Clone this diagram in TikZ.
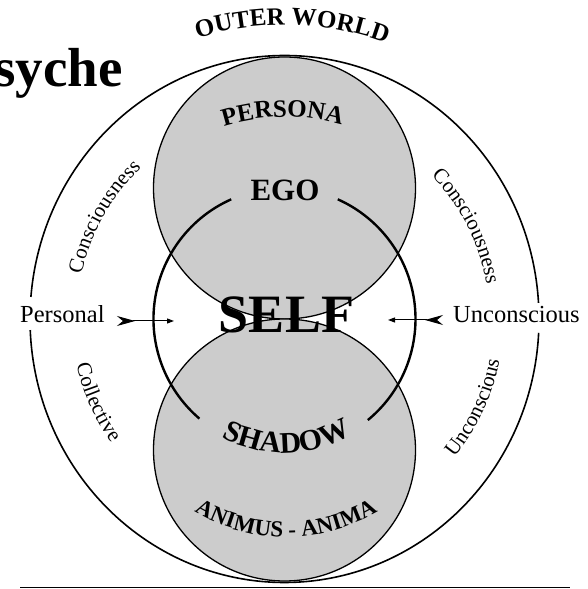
\documentclass[tikz,border=0pt]{standalone}
\usepackage{fontspec}
\setmainfont{Liberation Serif}
\usetikzlibrary{arrows.meta, positioning, decorations.text}

\begin{document}
\begin{tikzpicture}[x=1pt, y=1pt, every node/.style={inner sep=0pt}]
\tikzset{zone/.style={draw, line width=1.3pt, fill=black!20},
  rim/.style={line width=1.6pt},
  selfring/.style={line width=2.4pt},
  arctext/.style={decorate, decoration={text along path, text align=center, text={#1}}},
  inlet/.style={{Stealth[reversed, length=18pt, width=10pt, inset=6pt]}-{Triangle[length=7pt, width=5pt]}, line width=1pt}}
\useasboundingbox (0,0) rectangle (587,589);
\coordinate (o) at (284.5,270);
\coordinate (up) at (284.5,401);
\coordinate (lo) at (284.5,139);
\coordinate (am) at (286,231);
\begin{scope}
\clip (0,0) rectangle (587,589);
\node[anchor=base east, font=\bfseries\fontsize{55}{60}\selectfont] (title) at (123,502) {Psyche};
\end{scope}
\draw[zone] (up) circle[radius=131];
\draw[zone] (lo) circle[radius=131];
\draw[rim] (o) ++(3.5:254.5 and 263.5) arc[start angle=3.5, end angle=175.2, x radius=254.5, y radius=263.5];
\draw[rim] (o) ++(182.4:254.5 and 263.5) arc[start angle=182.4, end angle=357, x radius=254.5, y radius=263.5];
\draw[selfring] (o) ++(-50.5:131) arc[start angle=-50.5, end angle=66, radius=131];
\draw[selfring] (o) ++(114:131) arc[start angle=114, end angle=229.5, radius=131];
\draw[line width=1.8pt] (20,1.5) -- (570,1.5);
\path[arctext={|\bfseries\fontsize{25}{27}\selectfont|OUTER WORLD}] (o) ++(130:294) arc[start angle=130, end angle=47, radius=294];
\path[arctext={|\bfseries\fontsize{25}{27}\selectfont|PERSONA}] (o) ++(130:202) arc[start angle=130, end angle=51, radius=202];
\path[arctext={|\bfseries\fontsize{30}{32}\selectfont|SHADOW}] (o) ++(216:134) arc[start angle=216, end angle=326, radius=134];
\path[arctext={|\bfseries\fontsize{23}{25}\selectfont|ANIMUS - ANIMA}] (am) ++(220:179) arc[start angle=220, end angle=320, radius=179];
\path[arctext={|\fontsize{21}{23}\selectfont|Consciousness}] (o) ++(185:208) arc[start angle=185, end angle=116, radius=208];
\path[arctext={|\fontsize{21}{23}\selectfont|Consciousness}] (o) ++(62:205) arc[start angle=62, end angle=-8, radius=205];
\path[arctext={|\fontsize{21}{23}\selectfont|Collective}] (o) ++(174:213) arc[start angle=174, end angle=234, radius=213];
\path[arctext={|\fontsize{21}{23}\selectfont|Unconscious}] (o) ++(-55:219) arc[start angle=-55, end angle=5, radius=219];
\node[anchor=base, font=\bfseries\fontsize{31}{33}\selectfont] (ego) at (285,388) {EGO};
\node[anchor=base, font=\bfseries\fontsize{54}{56}\selectfont] (self) at (286.5,256) {SELF};
\node[anchor=base west, font=\fontsize{24.5}{26}\selectfont] (personal) at (20,266) {Personal};
\node[anchor=base west, font=\fontsize{24.5}{26}\selectfont] (unconscious) at (453,266) {Unconscious};
\coordinate (ptail) at (117,268);
\coordinate (ptip) at (174,268);
\coordinate (utail) at (443,269);
\coordinate (utip) at (388,269);
\draw[inlet] (ptail) -- (ptip);
\draw[inlet] (utail) -- (utip);
\end{tikzpicture}
\end{document}
